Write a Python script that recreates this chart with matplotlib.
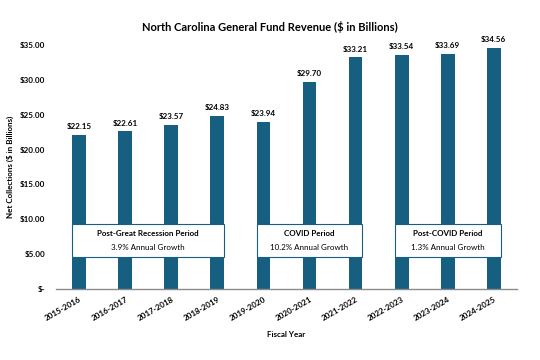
import matplotlib
matplotlib.use("Agg")
import matplotlib.pyplot as plt
from matplotlib.patches import Rectangle

years = ["2015-2016", "2016-2017", "2017-2018", "2018-2019", "2019-2020",
         "2020-2021", "2021-2022", "2022-2023", "2023-2024", "2024-2025"]
revenue = [22.15, 22.61, 23.57, 24.83, 23.94, 29.70, 33.21, 33.54, 33.69, 34.56]
yticks = [0, 5, 10, 15, 20, 25, 30, 35]
ytick_labels = ["$-", "$5.00", "$10.00", "$15.00", "$20.00", "$25.00", "$30.00", "$35.00"]
periods = ["Post-Great Recession Period", "COVID Period", "Post-COVID Period"]
growth = ["3.9% Annual Growth", "10.2% Annual Growth", "1.3% Annual Growth"]
period_start = [0, 4, 7]
period_end = [3, 6, 9]

plt.rcParams['font.family'] = ['Lato', 'DejaVu Sans']
color = "#175f80"

fig = plt.figure(figsize=(5.4, 3.6), dpi=100)
ax = fig.add_axes([0.104, 0.197, 0.853, 0.678])
x = list(range(len(years)))
bw = 0.3
ax.bar(x, revenue, width=bw, color=color, zorder=2)
for xi, v in zip(x, revenue):
    ax.text(xi, v + 0.7, f"${v:.2f}", ha="center", va="bottom", fontsize=5.8, fontweight="bold")

for s, e, p, g in zip(period_start, period_end, periods, growth):
    r = Rectangle((s - bw / 2, 4.6), (e - s) + bw, 4.7, facecolor="white",
                  edgecolor=color, linewidth=0.8, zorder=3)
    ax.add_patch(r)
    cx = (s + e) / 2
    ax.text(cx, 7.9, p, ha="center", va="center", fontsize=5.8, fontweight="bold", zorder=4)
    ax.text(cx, 5.95, g, ha="center", va="center", fontsize=5.8, zorder=4)

ax.set_xlim(-0.5, 9.5)
ax.set_ylim(0, 35)
ax.set_yticks(yticks)
ax.set_yticklabels(ytick_labels, fontsize=5.8, fontweight="bold")
ax.set_xticks(x)
ax.set_xticklabels(years, rotation=30, ha="right", rotation_mode="anchor", fontsize=5.8, fontweight="bold")
ax.tick_params(axis="both", length=0)
ax.tick_params(axis="y", pad=8)
ax.tick_params(axis="x", pad=5)
for sp in ["top", "right", "left"]:
    ax.spines[sp].set_visible(False)
ax.spines["bottom"].set_color("#8a8a8a")
ax.spines["bottom"].set_linewidth(1.0)

ax.set_xlabel("Fiscal Year", fontsize=5.8, fontweight="bold", labelpad=6)
ax.set_ylabel("Net Collections ($ in Billions)", fontsize=5.8, fontweight="bold")
ax.yaxis.set_label_coords(-0.092, 0.5)
fig.text(0.5, 0.925, "North Carolina General Fund Revenue ($ in Billions)", ha="center", va="center",
         fontsize=8, fontweight="bold")

fig.savefig("out.png", dpi=100)
